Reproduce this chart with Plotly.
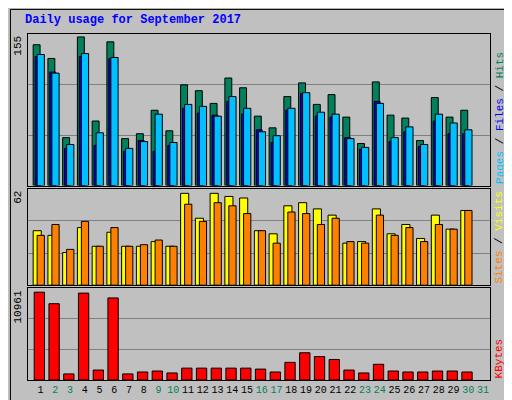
import plotly.graph_objects as go
from plotly.subplots import make_subplots

days = list(range(1, 32))
hits  = [144,130,49,152,66,147,48,53,77,56,103,97,84,110,100,71,59,91,105,83,93,70,43,106,72,69,46,90,70,77,None]
files = [134,115,42,135,54,131,38,45,73,44,83,81,71,91,79,55,51,79,95,75,73,48,39,84,49,60,42,73,64,57,None]
pages = [132,116,38,132,41,130,35,46,35,41,79,74,72,86,73,57,44,77,94,71,70,49,37,86,45,55,40,66,53,53,None]
visits = [35,32,21,37,25,34,25,25,28,25,59,43,59,57,56,35,33,51,53,49,45,27,28,49,33,39,30,45,36,48,None]
sites  = [32,39,23,41,25,37,25,26,29,25,52,41,53,51,46,35,27,47,46,39,43,28,27,45,32,37,28,39,36,48,None]
kbytes = [10501,9121,728,10386,1188,9811,728,958,1073,843,1418,1418,1418,1418,1418,1303,958,2108,3258,2798,2453,1188,843,1878,1073,958,958,1073,1073,958,None]
weekend = {2,3,9,10,16,17,23,24,30,31}
ticktext = [f"<span style='color:#00805C'>{d}</span>" if d in weekend else str(d) for d in days]
max_top, max_mid, max_bot = 155, 62, 10961

FONT = "Liberation Mono"
fig = make_subplots(rows=3, cols=1, shared_xaxes=True, vertical_spacing=0)

def bar(x, y, color, off, w, row):
    fig.add_trace(go.Bar(x=x, y=y, marker=dict(color=color, line=dict(color="black", width=1)),
                         offset=off, width=w, showlegend=False, hoverinfo="skip"), row=row, col=1)

bar(days, hits, "#00805C", -0.5, 0.47, 1)
bar(days, pages, "#0000FF", -0.37, 0.4, 1)
bar(days, files, "#00C0FF", -0.23, 0.49, 1)
bar(days, visits, "#FFFF00", -0.5, 0.55, 2)
bar(days, sites, "#FF8000", -0.23, 0.49, 2)
bar(days, kbytes, "#FF0000", -0.43, 0.7, 3)

doms = {1: [0.562, 1.0], 2: [0.274, 0.553], 3: [0.0, 0.265]}
maxes = {1: max_top, 2: max_mid, 3: max_bot}
fig.update_layout(barmode="overlay", width=512, height=400,
                  margin=dict(l=20, r=30, t=26, b=28),
                  paper_bgcolor="#C0C0C0", plot_bgcolor="#C0C0C0",
                  font=dict(family=FONT, size=11, color="black"))
for r in (1, 2, 3):
    m = maxes[r]
    fig.update_yaxes(row=r, col=1, domain=doms[r], range=[0, m], tickvals=[m/3, 2*m/3],
                     showticklabels=False, showgrid=True, gridcolor="#808080", gridwidth=1,
                     zeroline=False, showline=True, linecolor="black", mirror=True)
    fig.update_xaxes(row=r, col=1, range=[0.15, 31.48], showgrid=False, zeroline=False,
                     showline=True, linecolor="black", mirror=True, ticks="",
                     tickvals=days, ticktext=ticktext, showticklabels=(r == 3))
fig.update_xaxes(row=3, col=1, tickangle=0, tickfont=dict(size=10, family=FONT))

yrefs = {1: "y domain", 2: "y2 domain", 3: "y3 domain"}
for r, lab in ((1, "155"), (2, "62"), (3, "10961")):
    fig.add_annotation(xref="paper", yref=yrefs[r], x=-0.005, y=1, xanchor="right", yanchor="top",
                       text=lab, textangle=-90, showarrow=False, font=dict(size=11, family=FONT))
right = {1: "<span style='color:#00C0FF'>Pages</span> / <span style='color:#0000FF'>Files</span> / <span style='color:#00805C'>Hits</span>",
         2: "<span style='color:#FF8000'>Sites</span> / <span style='color:#FFFF00'>Visits</span>",
         3: "<span style='color:#FF0000'>KBytes</span>"}
for r in (1, 2, 3):
    fig.add_annotation(xref="paper", yref=yrefs[r], x=1.003, y=0, xanchor="left", yanchor="bottom",
                       text=right[r], textangle=-90, showarrow=False, font=dict(size=11, family=FONT))
fig.add_annotation(xref="paper", yref="paper", x=-0.01, y=1.04, xanchor="left", yanchor="middle",
                   text="<b>Daily usage for September 2017</b>", showarrow=False,
                   font=dict(size=12, family=FONT, color="#0000FF"))
fig.add_shape(type="rect", xref="paper", yref="paper", x0=-0.038, x1=1.06, y0=-0.078, y1=1.071,
              line=dict(color="black", width=1), layer="below")
fig.write_html("out.html")
